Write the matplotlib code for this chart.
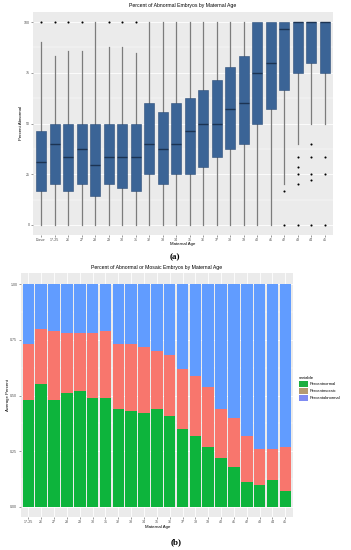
import matplotlib
matplotlib.use("Agg")
import matplotlib.pyplot as plt
from matplotlib.patches import Patch
from matplotlib.ticker import MultipleLocator

W, H = 351, 550

plt.rcParams.update({
    "font.family": ["Liberation Sans", "DejaVu Sans"],
    "figure.dpi": 100,
})

# ---- panel (a): box plot summary per maternal age ----
ages_a = ["Donor", "17-25"] + [str(a) for a in range(26, 46)]
q1 = [16.7, 20, 16.7, 20, 14.3, 20, 18.2, 16.7, 25, 20, 25, 25, 28.6, 33.3,
      37.5, 40, 50, 57.1, 66.7, 75, 80, 75]
med = [31, 40, 33.3, 37.5, 29.4, 33.3, 33.3, 33.3, 40, 37.5, 40, 46.2, 50, 50,
       57.1, 60, 75, 80, 96.7, 100, 100, 100]
q3 = [46.4, 50, 50, 50, 50, 50, 50, 50, 60, 55.6, 60, 62.5, 66.7, 71.4,
      77.8, 83.3, 100, 100, 100, 100, 100, 100]
whislo = [0, 0, 0, 0, 0, 0, 0, 0, 0, 0, 0, 0, 0, 0, 0, 0, 0, 0, 20, 40, 50, 50]
whishi = [90, 83.3, 85.7, 85.7, 100, 87.5, 87.5, 85, 100, 100, 100, 100, 100,
          100, 100, 100, 100, 100, 100, 100, 100, 100]
outliers = [[100], [100], [100], [100], [], [100], [100], [100], [], [], [], [],
            [], [], [], [], [], [], [16.7, 0], [33.3, 28.6, 25, 20, 0],
            [40, 33.3, 25, 22.2, 0], [33.3, 25, 0]]

# ---- panel (b): average fractions per maternal age ----
ages_b = ["17-25"] + [str(a) for a in range(26, 46)]
pct_normal = [0.48, 0.55, 0.48, 0.51, 0.52, 0.49, 0.49, 0.44, 0.43, 0.42, 0.44,
              0.41, 0.35, 0.32, 0.27, 0.22, 0.18, 0.11, 0.10, 0.12, 0.07]
pct_mosaic = [0.25, 0.25, 0.31, 0.27, 0.26, 0.29, 0.30, 0.29, 0.30, 0.30, 0.26,
              0.27, 0.27, 0.27, 0.27, 0.22, 0.22, 0.21, 0.16, 0.14, 0.20]
pct_abnormal = [round(1 - n - m, 2) for n, m in zip(pct_normal, pct_mosaic)]
variables = ["Percentnormal", "Percentmosaic", "Percentabnormal"]


def rect(x0, y0, x1, y1):
    return [x0 / W, 1 - y1 / H, (x1 - x0) / W, (y1 - y0) / H]


def gg_panel(ax):
    ax.set_facecolor("#EBEBEB")
    for s in ax.spines.values():
        s.set_visible(False)
    ax.set_axisbelow(True)
    ax.grid(True, which="major", color="white", lw=0.6)
    ax.grid(True, which="minor", axis="y", color="white", lw=0.3)
    ax.tick_params(length=1.6, width=0.4, color="#4D4D4D", labelsize=2.6,
                   labelcolor="#4D4D4D", pad=0.8)
    ax.tick_params(which="minor", length=0)


fig = plt.figure(figsize=(W / 100, H / 100))

# panel (a)
ax1 = fig.add_axes(rect(33, 12, 333, 235))
gg_panel(ax1)
ax1.grid(False, axis="x")
stats = [dict(q1=a, med=b, q3=c, whislo=d, whishi=e, fliers=f)
         for a, b, c, d, e, f in zip(q1, med, q3, whislo, whishi, outliers)]
pos = list(range(1, len(ages_a) + 1))
ax1.bxp(stats, positions=pos, widths=0.75, patch_artist=True, showcaps=False,
        boxprops=dict(facecolor="#3B6496", edgecolor="#2C4D78", lw=0.4,
                      zorder=3),
        medianprops=dict(color="#1C3352", lw=1.0, zorder=4),
        whiskerprops=dict(color="#7C7C7C", lw=0.9, zorder=2),
        flierprops=dict(marker="o", markersize=1.5, markerfacecolor="black",
                        markeredgecolor="none"))
ax1.set_xlim(0.4, len(ages_a) + 0.6)
ax1.set_ylim(-5, 105)
ax1.set_xticks(pos)
ax1.set_xticklabels(ages_a)
ax1.set_yticks([0, 25, 50, 75, 100])
ax1.yaxis.set_minor_locator(MultipleLocator(12.5))

fig.text(183 / W, 1 - 6 / H, "Percent of Abnormal Embryos by Maternal Age",
         ha="center", va="center", fontsize=3.7)
fig.text(183 / W, 1 - 244 / H, "Maternal Age", ha="center", va="center",
         fontsize=3.2)
fig.text(21.5 / W, 1 - 123 / H, "Percent Abnormal", ha="center", va="center",
         rotation=90, fontsize=3.2)
fig.text(175 / W, 1 - 257 / H, "(a)", ha="center", va="center", fontsize=6.5,
         family="Liberation Serif", weight="bold")

# panel (b)
ax2 = fig.add_axes(rect(20.7, 273, 293, 517))
gg_panel(ax2)
xb = list(range(1, len(ages_b) + 1))
colors = ["#0DB43C", "#F8766D", "#619CFF"]
bottom = [0] * len(xb)
for vals, col in zip([pct_normal, pct_mosaic, pct_abnormal], colors):
    ax2.bar(xb, vals, bottom=bottom, width=0.9, color=col, lw=0)
    bottom = [b + v for b, v in zip(bottom, vals)]
ax2.set_xlim(0.4, len(ages_b) + 0.6)
ax2.set_ylim(-0.045, 1.05)
ax2.set_xticks(xb)
ax2.set_xticklabels(ages_b)
ax2.set_yticks([0, 0.25, 0.5, 0.75, 1.0])
ax2.set_yticklabels(["0.00", "0.25", "0.50", "0.75", "1.00"])
ax2.yaxis.set_minor_locator(MultipleLocator(0.125))

fig.text(157 / W, 1 - 268 / H,
         "Percent of Abnormal or Mosaic Embryos by Maternal Age",
         ha="center", va="center", fontsize=3.7)
fig.text(158 / W, 1 - 527 / H, "Maternal Age", ha="center", va="center",
         fontsize=3.2)
fig.text(8 / W, 1 - 395 / H, "Average Percent", ha="center", va="center",
         rotation=90, fontsize=3.2)
fig.text(176 / W, 1 - 542 / H, "(b)", ha="center", va="center", fontsize=6.5,
         family="Liberation Serif", weight="bold")

key_colors = ["#1DAE3F", "#B59A72", "#7F8BF2"]
handles = [Patch(facecolor=c, edgecolor="none") for c in key_colors]
leg = fig.legend(handles, variables, title="variable", loc="upper left",
                 bbox_to_anchor=(299 / W, 1 - 376 / H), frameon=False,
                 fontsize=2.9, title_fontsize=3.2, handlelength=2.2,
                 handleheight=2.1, labelspacing=0.15, handletextpad=0.5,
                 borderpad=0, borderaxespad=0, alignment="left")

fig.savefig("out.png", dpi=100, facecolor="white")
